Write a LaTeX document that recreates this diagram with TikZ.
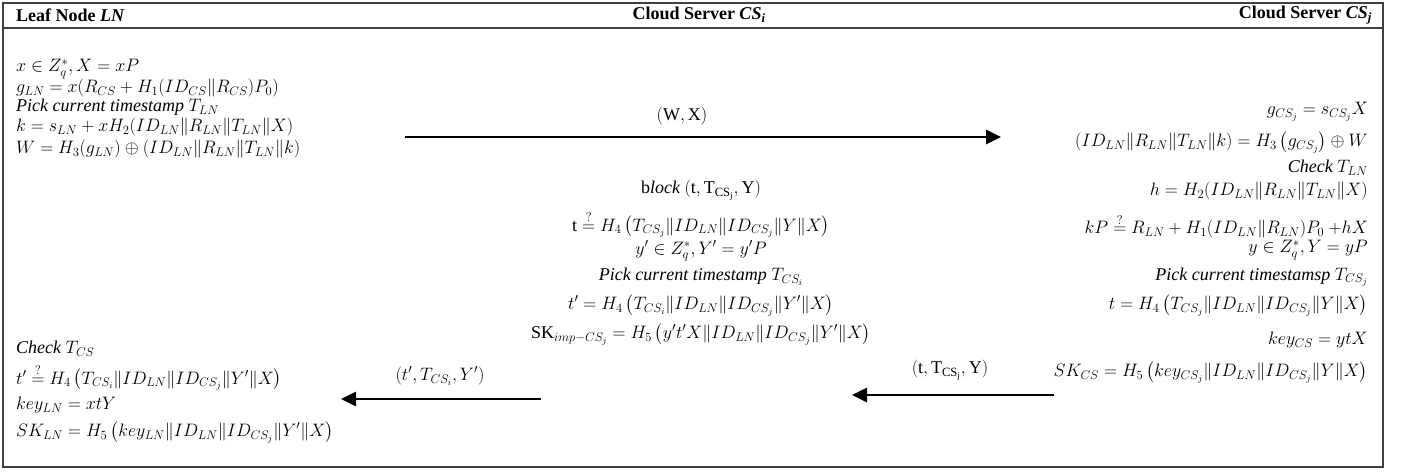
\RequirePackage{fix-cm}
\documentclass[tikz,border=0pt]{standalone}
\usepackage{amsmath}
\usepackage{fontspec}
\setmainfont{Liberation Serif}
\usetikzlibrary{arrows.meta}
\newcommand{\mfs}{\fontsize{18}{21}\selectfont}
\begin{document}
\begin{tikzpicture}[x=1pt,y=-1pt,
  frame/.style={draw=black!75,line width=1.3pt},
  hdr/.style={inner sep=0pt,font=\fontsize{18}{20}\selectfont\bfseries},
  lt/.style={anchor=west,inner sep=0pt,font=\mfs},
  rt/.style={anchor=east,inner sep=0pt,font=\mfs},
  ct/.style={anchor=center,inner sep=0pt,font=\mfs},
  msg/.style={line width=2.6pt,-{Triangle[length=15pt,width=14pt]}}]
\useasboundingbox (0,0) rectangle (1405,472);
\draw[frame] (3,3) rectangle (1383,467);
\draw[frame] (3,28) -- (1383,28);
% headers
\node[hdr,anchor=west] (hLN) at (16,15) {Leaf Node \textit{LN}};
\node[hdr,anchor=center] (hCSi) at (699,15) {Cloud Server \textit{CS}\textsubscript{\textit{i}}};
\node[hdr,anchor=east] (hCSj) at (1372,15) {Cloud Server \textit{CS}\textsubscript{\textit{j}}};
% left column
\node[lt] (l1) at (16,69) {$x \in Z_q^*, X = xP$};
\node[lt] (l2) at (16,88) {$g_{LN} = x(R_{CS} + H_1(ID_{CS}\|R_{CS})P_0)$};
\node[lt] (l3) at (16,107) {$\mathit{Pick\ current\ timestamp}\ T_{LN}$};
\node[lt] (l4) at (16,127) {$k = s_{LN} + xH_2(ID_{LN}\|R_{LN}\|T_{LN}\|X)$};
\node[lt] (l5) at (16,149) {$W = H_3(g_{LN}) \oplus (ID_{LN}\|R_{LN}\|T_{LN}\|k)$};
\node[lt] (l6) at (16,349) {$\mathit{Check}\ T_{CS}$};
\node[lt] (l7) at (16,377) {$t' \overset{?}{=} H_4\,\bigl(T_{CS_i}\|ID_{LN}\|ID_{CS_j}\|Y'\|X\bigr)$};
\node[lt] (l8) at (16,405) {$key_{LN} = xtY$};
\node[lt] (l9) at (16,432) {$SK_{LN} = H_5\,\bigl(key_{LN}\|ID_{LN}\|ID_{CS_j}\|Y'\|X\bigr)$};
% centre column
\node[ct] (c1) at (701,190) {$\mathrm{b}\mathit{lock}\ (\mathrm{t}, \mathrm{T}_{\mathrm{CS}_{\mathrm{j}}}, \mathrm{Y})$};
\node[ct] (c2) at (701,224) {$\mathrm{t} \overset{?}{=} H_4\,\bigl(T_{CS_j}\|ID_{LN}\|ID_{CS_j}\|Y\|X\bigr)$};
\node[ct] (c3) at (701,251) {$y' \in Z_q^*, Y' = y'P$};
\node[ct] (c4) at (701,277) {$\mathit{Pick\ current\ timestamp}\ T_{CS_i}$};
\node[ct] (c5) at (701,305) {$t' = H_4\,\bigl(T_{CS_i}\|ID_{LN}\|ID_{CS_j}\|Y'\|X\bigr)$};
\node[ct] (c6) at (701,334) {$\mathrm{SK}_{imp-CS_j} = H_5\,\bigl(y't'X\|ID_{LN}\|ID_{CS_j}\|Y'\|X\bigr)$};
% right column
\node[rt] (r1) at (1368,112) {$g_{CS_j} = s_{CS_j}X$};
\node[rt] (r2) at (1368,142) {$(ID_{LN}\|R_{LN}\|T_{LN}\|k) = H_3\,\bigl(g_{CS_j}\bigr) \oplus W$};
\node[rt] (r3) at (1368,168) {$\mathit{Check}\ T_{LN}$};
\node[rt] (r4) at (1368,191) {$h = H_2(ID_{LN}\|R_{LN}\|T_{LN}\|X)$};
\node[rt] (r5) at (1368,226) {$kP \overset{?}{=} R_{LN} + H_1(ID_{LN}\|R_{LN})P_0\ {+}hX$};
\node[rt] (r6) at (1368,250) {$y \in Z_q^*, Y = yP$};
\node[rt] (r7) at (1368,277) {$\mathit{Pick\ current\ timestamsp}\ T_{CS_j}$};
\node[rt] (r8) at (1368,305) {$t = H_4\,\bigl(T_{CS_j}\|ID_{LN}\|ID_{CS_j}\|Y\|X\bigr)$};
\node[rt] (r9) at (1368,340) {$key_{CS} = ytX$};
\node[rt] (r10) at (1368,372) {$SK_{CS} = H_5\,\bigl(key_{CS_j}\|ID_{LN}\|ID_{CS_j}\|Y\|X\bigr)$};
% messages
\coordinate (a1s) at (405,137); \coordinate (a1e) at (1001,137);
\coordinate (a3s) at (1054,395); \coordinate (a3e) at (852,395);
\coordinate (a2s) at (541,399); \coordinate (a2e) at (341,399);
\draw[msg] (a1s) -- (a1e);
\draw[msg] (a3s) -- (a3e);
\draw[msg] (a2s) -- (a2e);
\node[ct] (m1) at (682,116) {$(\mathrm{W}, \mathrm{X})$};
\node[ct] (m3) at (950,370) {$(\mathrm{t}, \mathrm{T}_{\mathrm{CS}_{\mathrm{j}}}, \mathrm{Y})$};
\node[ct] (m2) at (440,376) {$(t', T_{CS_i}, Y')$};
\end{tikzpicture}
\end{document}
